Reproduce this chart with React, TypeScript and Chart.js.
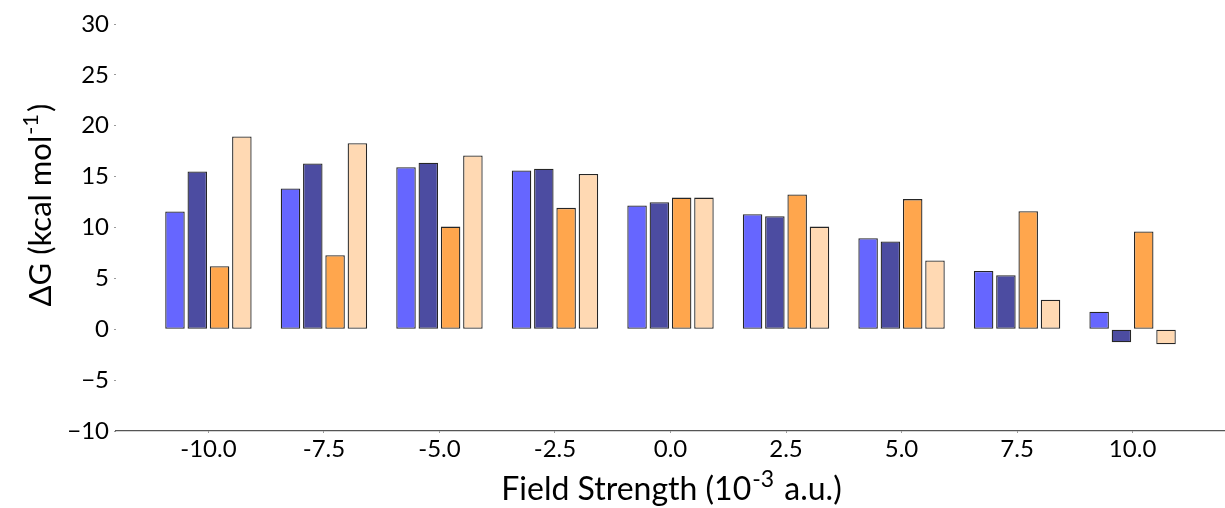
import { useEffect, useRef } from 'react';
import { Chart, registerables } from 'chart.js';

Chart.register(...registerables);

// Field strength (10^-3 a.u.)
const fieldStrengths = [-10, -7.5, -5, -2.5, 0, 2.5, 5, 7.5, 10];
// ΔG (kcal/mol) per series
const seriesA = [11.57, 13.83, 15.93, 15.6, 12.16, 11.31, 8.95, 5.73, 1.73];
const seriesB = [15.5, 16.29, 16.36, 15.77, 12.49, 11.11, 8.62, 5.31, -1.28];
const seriesC = [6.2, 7.28, 10.09, 11.93, 12.94, 13.24, 12.79, 11.6, 9.6];
const seriesD = [18.94, 18.29, 17.08, 15.27, 12.94, 10.09, 6.75, 2.91, -1.48];

const xTickValues = [-10, -7.5, -5, -2.5, 0, 2.5, 5, 7.5, 10];
const xTickLabels = ['-10.0', '-7.5', '-5.0', '-2.5', '0.0', '2.5', '5.0', '7.5', '10.0'];
const yTickValues = [-10, -5, 0, 5, 10, 15, 20, 25, 30];
const yTickLabels = ['\u221210', '\u22125', '0', '5', '10', '15', '20', '25', '30'];

const xTitleParts = [
  { text: 'Field Strength (10', sup: false },
  { text: '-3', sup: true },
  { text: ' a.u.)', sup: false },
];
const yTitleParts = [
  { text: '\u0394G (kcal mol', sup: false },
  { text: '-1', sup: true },
  { text: ')', sup: false },
];

const seriesColors = ['#6666ff', '#4c4ca1', '#ffa64d', '#ffd9b3'];

const FONT = 'Lato';

function drawRich(
  ctx: CanvasRenderingContext2D,
  parts: { text: string; sup: boolean }[],
  size: number,
  supSize: number
) {
  const mainFont = `${size}px ${FONT}`;
  const supFont = `${supSize}px ${FONT}`;
  let total = 0;
  const widths = parts.map((p) => {
    ctx.font = p.sup ? supFont : mainFont;
    const w = ctx.measureText(p.text).width + (p.sup ? 3 : 0);
    total += w;
    return w;
  });
  let x = -total / 2;
  ctx.textAlign = 'left';
  ctx.textBaseline = 'alphabetic';
  ctx.fillStyle = '#000';
  parts.forEach((p, i) => {
    ctx.font = p.sup ? supFont : mainFont;
    ctx.fillText(p.text, x + (p.sup ? 1 : 0), p.sup ? -size * 0.42 : 0);
    x += widths[i];
  });
}

const titlePlugin = {
  id: 'richTitles',
  afterDraw(chart: any) {
    const ctx: CanvasRenderingContext2D = chart.ctx;
    const area = chart.chartArea;
    ctx.save();
    ctx.translate((area.left + area.right) / 2 + 1, 500);
    drawRich(ctx, xTitleParts, 32, 23);
    ctx.restore();

    ctx.save();
    ctx.translate(51, 205);
    ctx.rotate(-Math.PI / 2);
    drawRich(ctx, yTitleParts, 31, 22);
    ctx.restore();
  },
};

export default function App() {
  const canvasRef = useRef<HTMLCanvasElement | null>(null);

  useEffect(() => {
    document.body.style.margin = '0';
    const canvas = canvasRef.current;
    if (!canvas) return;

    const allSeries = [seriesA, seriesB, seriesC, seriesD];
    const chart = new Chart(canvas, {
      type: 'bar',
      data: {
        datasets: allSeries.map((s, i) => ({
          data: fieldStrengths.map((x, j) => ({ x, y: s[j] })),
          backgroundColor: seriesColors[i],
          borderColor: 'rgba(0,0,0,0.85)',
          borderWidth: 1.3,
          borderSkipped: false,
          barPercentage: 0.875,
          categoryPercentage: 0.772,
        })),
      },
      plugins: [titlePlugin],
      options: {
        animation: false,
        responsive: false,
        maintainAspectRatio: false,
        layout: { padding: { top: 24, right: -1, left: 0, bottom: 0 } },
        plugins: {
          legend: { display: false },
          tooltip: { enabled: false },
        },
        scales: {
          x: {
            type: 'linear',
            min: -12,
            max: 12,
            offset: false,
            afterFit: (scale: any) => {
              scale.height = 77;
            },
            afterBuildTicks: (scale: any) => {
              scale.ticks = xTickValues.map((v) => ({ value: v }));
            },
            ticks: {
              autoSkip: false,
              maxRotation: 0,
              padding: 2,
              color: '#000',
              font: { family: FONT, size: 24 },
              callback: (v: any) => {
                const i = xTickValues.indexOf(Number(v));
                return i >= 0 ? xTickLabels[i] : '';
              },
            },
            grid: {
              display: true,
              offset: false,
              drawOnChartArea: false,
              drawTicks: true,
              tickLength: 2,
              color: '#999',
            },
            border: { display: true, color: '#555', width: 1.3 },
            title: { display: false },
          },
          y: {
            type: 'linear',
            min: -10,
            max: 30,
            afterFit: (scale: any) => {
              scale.width = 116;
            },
            afterBuildTicks: (scale: any) => {
              scale.ticks = yTickValues.map((v) => ({ value: v }));
            },
            ticks: {
              padding: 5,
              color: '#000',
              font: { family: FONT, size: 24 },
              callback: (v: any) => {
                const i = yTickValues.indexOf(Number(v));
                return i >= 0 ? yTickLabels[i] : '';
              },
            },
            grid: {
              display: true,
              offset: false,
              drawOnChartArea: false,
              drawTicks: true,
              tickLength: 2,
              color: '#999',
            },
            border: { display: false },
            title: { display: false },
          },
        },
      },
    });

    return () => {
      chart.destroy();
    };
  }, []);

  return (
    <div style={{ width: 1225, height: 508, position: 'relative' }}>
      <canvas ref={canvasRef} width={1225} height={508} style={{ display: 'block' }} />
    </div>
  );
}
